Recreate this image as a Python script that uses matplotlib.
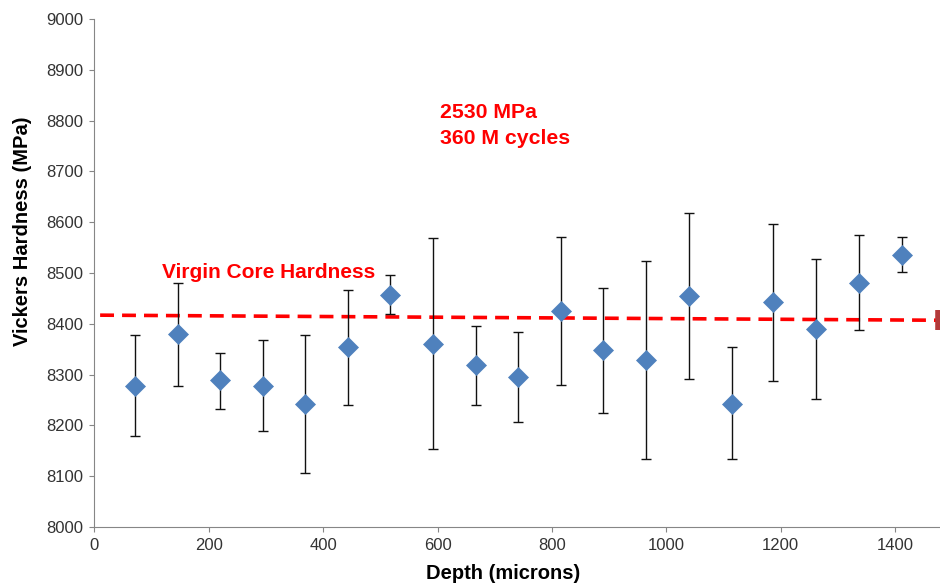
import matplotlib
matplotlib.use("Agg")
import matplotlib.pyplot as plt
import numpy as np

plt.rcParams['font.family'] = ['Liberation Sans', 'DejaVu Sans']
plt.rcParams['lines.scale_dashes'] = False

# Data
depth = [71, 146, 220, 294, 369, 443, 517, 592, 667, 741, 816, 889, 964, 1040, 1115, 1186, 1262, 1337, 1412]
hardness = [8278, 8379, 8289, 8278, 8243, 8354, 8457, 8360, 8318, 8295, 8426, 8348, 8328, 8455, 8243, 8442, 8390, 8481, 8535]
upper = [8377, 8481, 8342, 8369, 8377, 8467, 8496, 8568, 8395, 8384, 8570, 8470, 8523, 8618, 8354, 8597, 8527, 8575, 8570]
lower = [8180, 8278, 8233, 8188, 8107, 8241, 8419, 8153, 8241, 8207, 8280, 8224, 8133, 8291, 8133, 8287, 8252, 8388, 8501]

core_x = [10, 1475]
core_y = [8417, 8407]

x_ticks = [0, 200, 400, 600, 800, 1000, 1200, 1400]
y_ticks = [8000, 8100, 8200, 8300, 8400, 8500, 8600, 8700, 8800, 8900, 9000]

fig = plt.figure(figsize=(9.4, 5.88), dpi=100)
W, H = 940, 588
left_px, right_px = 94.4, 952.4
bot_px, top_px = 527, 19
ax = fig.add_axes([left_px / W, 1 - bot_px / H, (right_px - left_px) / W, (bot_px - top_px) / H])

h = np.array(hardness)
yerr = [h - np.array(lower), np.array(upper) - h]

ax.plot(core_x, core_y, color='#FF0000', lw=2.6, dashes=(10, 5.8), zorder=1.5)
ax.plot(core_x[-1:], core_y[-1:], marker='|', ms=14, mew=4, color='#B23A3A', ls='none', zorder=1.6, clip_on=False)

ax.errorbar(depth, hardness, yerr=yerr, fmt='none', ecolor='#111111', elinewidth=1.0,
            capsize=3.4, capthick=1.0, zorder=2)
ax.plot(depth, hardness, ls='none', marker='D', ms=9.7, color='#4F81BD', mec='#4F81BD', mew=0.5, zorder=3)

ax.set_xlim(0, 1500)
ax.set_ylim(8000, 9000)
ax.set_xticks(x_ticks)
ax.set_yticks(y_ticks)

for s in ['top', 'right']:
    ax.spines[s].set_visible(False)
for s in ['left', 'bottom']:
    ax.spines[s].set_color('#868686')
    ax.spines[s].set_linewidth(0.8)
ax.tick_params(axis='both', direction='out', length=3.8, width=0.8, color='#868686',
               labelsize=12, labelcolor='#333333', pad=4)

fig.text(23 / W, 1 - 231.5 / H, 'Vickers Hardness (MPa)', rotation=90, ha='center', va='center',
         fontsize=14.5, fontweight='bold', color='black')
fig.text(503 / W, 1 - 579 / H, 'Depth (microns)', ha='center', va='baseline',
         fontsize=14.5, fontweight='bold', color='black')

ax.text(119, 8491, 'Virgin Core Hardness', color='#FF0000', fontsize=15, fontweight='bold',
        ha='left', va='baseline')
ax.text(605, 8806, '2530 MPa', color='#FF0000', fontsize=15.3, fontweight='bold', ha='left', va='baseline')
ax.text(605, 8754, '360 M cycles', color='#FF0000', fontsize=15.3, fontweight='bold', ha='left', va='baseline')

fig.savefig('out.png', dpi=100, facecolor='white')
